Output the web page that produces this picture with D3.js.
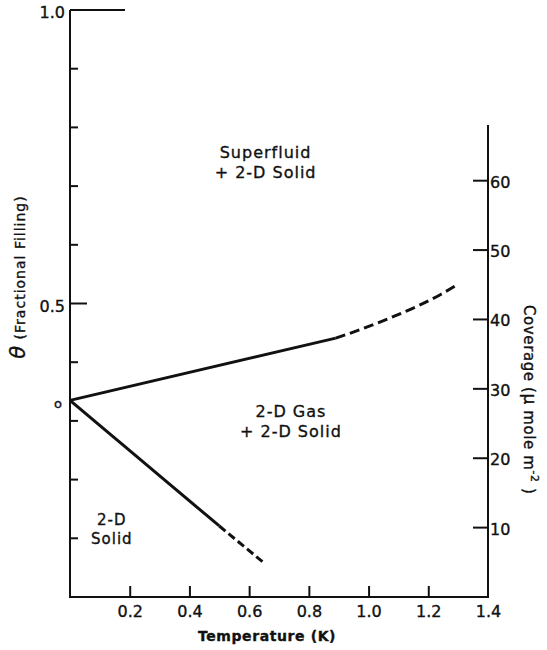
<!DOCTYPE html>
<html>
<head>
<meta charset="utf-8">
<script src="https://cdn.jsdelivr.net/npm/d3@7"></script>
<style>
  html, body { margin: 0; padding: 0; background: #fff; }
  svg { display: block; }
  text { font-family: "DejaVu Sans", sans-serif; fill: #111; stroke: #111; stroke-width: 0.35px; }
</style>
</head>
<body>
<div id="chart"></div>
<script>
// Phase boundaries of a helium film: fractional filling θ versus temperature (K)
const upperSolid  = [[0.00, 0.335], [0.89, 0.441]];
const upperDashed = [[0.89, 0.441], [0.98, 0.457], [1.07, 0.475], [1.17, 0.497], [1.24, 0.515], [1.30, 0.533]];
const lowerSolid  = [[0.00, 0.335], [0.50, 0.121]];
const lowerDashed = [[0.50, 0.121], [0.645, 0.060]];

const tempTicks      = [0.2, 0.4, 0.6, 0.8, 1.0, 1.2, 1.4];
const thetaMajor     = [0.5, 1.0];
const thetaMinor     = [0.1, 0.2, 0.3, 0.4, 0.6, 0.7, 0.8, 0.9];
const coverageTicks  = [10, 20, 30, 40, 50, 60];
const coverageMax    = 84.6;   // coverage (µmole m^-2) at θ = 1

const regionLabels = [
  { lines: ["Superfluid", "+ 2-D Solid"], t: 0.655, th: 0.748, size: 16 },
  { lines: ["2-D Gas", "+ 2-D Solid"],    t: 0.74,  th: 0.307, size: 16 },
  { lines: ["2-D", "Solid"],              t: 0.14,  th: 0.123, size: 15 }
];

const W = 547, H = 650;
const svg = d3.select("#chart").append("svg").attr("width", W).attr("height", H);

const x = d3.scaleLinear().domain([0, 1.4]).range([70, 488]);
const y = d3.scaleLinear().domain([0, 1]).range([597, 10]);
const yc = d3.scaleLinear().domain([0, coverageMax]).range([597, 10]);

const ink = "#111";

// frame: left, bottom and right axis lines
const frame = svg.append("g").attr("stroke", ink).attr("stroke-width", 2).attr("fill", "none");
frame.append("path").attr("d", `M${x(0)},${y(1)}H${x(0) + 55}M${x(0)},${y(1)}V${y(0)}H${x(1.4)}V${y(1) + 115}`);

// bottom axis: inward ticks with labels underneath
const xAxis = d3.axisBottom(x).tickValues(tempTicks).tickSize(0).tickPadding(0)
  .tickFormat(d3.format(".1f"));
const gx = svg.append("g").attr("transform", `translate(0,${y(0)})`).call(xAxis);
gx.select(".domain").remove();
gx.selectAll(".tick text").attr("y", 20).attr("dy", 0).attr("font-size", 16)
  .attr("font-family", "DejaVu Sans").attr("fill", ink);
gx.selectAll(".tick").filter(d => d < 1.4).append("line")
  .attr("y1", 0).attr("y2", -11).attr("stroke", ink).attr("stroke-width", 2);

svg.append("text").attr("x", 267).attr("y", 641).attr("text-anchor", "middle")
  .attr("font-size", 14).attr("font-weight", "bold").attr("letter-spacing", 0.6)
  .text("Temperature (K)");

// left axis: θ
const gl = svg.append("g");
gl.selectAll("line.minor").data(thetaMinor).join("line")
  .attr("x1", x(0)).attr("x2", x(0) + 8).attr("y1", d => y(d)).attr("y2", d => y(d))
  .attr("stroke", ink).attr("stroke-width", 2);
gl.selectAll("line.major").data(thetaMajor.filter(d => d < 1)).join("line")
  .attr("x1", x(0)).attr("x2", x(0) + 17).attr("y1", d => y(d)).attr("y2", d => y(d))
  .attr("stroke", ink).attr("stroke-width", 2);
gl.selectAll("text").data(thetaMajor).join("text")
  .attr("x", 65).attr("y", d => y(d) + 8).attr("text-anchor", "end")
  .attr("font-size", 16).text(d3.format(".1f"));
svg.append("text").attr("x", 58).attr("y", y(0.335) + 8).attr("text-anchor", "middle")
  .attr("font-size", 13).text("o");

const lt = svg.append("text").attr("transform", `translate(25,277) rotate(-90)`)
  .attr("text-anchor", "middle").attr("font-size", 14).attr("letter-spacing", 1);
lt.append("tspan").attr("font-size", 21).attr("font-style", "italic").text("θ");
lt.append("tspan").text(" (Fractional Filling)");

// right axis: coverage
const gr = svg.append("g");
gr.selectAll("line").data(coverageTicks).join("line")
  .attr("x1", x(1.4)).attr("x2", x(1.4) - 15).attr("y1", d => yc(d)).attr("y2", d => yc(d))
  .attr("stroke", ink).attr("stroke-width", 2);
gr.selectAll("text").data(coverageTicks).join("text")
  .attr("x", x(1.4) + 2).attr("y", d => yc(d) + 7).attr("font-size", 16).text(d => d);

const rt = svg.append("text").attr("transform", `translate(524,305) rotate(90)`)
  .attr("font-size", 15).attr("letter-spacing", 0.6);
rt.append("tspan").text("Coverage (");
rt.append("tspan").attr("font-size", 17).text("μ");
rt.append("tspan").text(" mole  m");
rt.append("tspan").attr("font-size", 11).attr("dy", -7).text("-2");
rt.append("tspan").attr("dy", 7).text(" )");

// phase boundaries
const line = d3.line().x(d => x(d[0])).y(d => y(d[1]));
const curve = d3.line().x(d => x(d[0])).y(d => y(d[1])).curve(d3.curveMonotoneX);
const lines = svg.append("g").attr("fill", "none").attr("stroke", ink).attr("stroke-width", 3);
lines.append("path").attr("d", line(upperSolid));
lines.append("path").attr("d", curve(upperDashed)).attr("stroke-dasharray", "10,5");
lines.append("path").attr("d", line(lowerSolid));
lines.append("path").attr("d", line(lowerDashed)).attr("stroke-dasharray", "8,4");

// region names
regionLabels.forEach(r => {
  const t = svg.append("text").attr("text-anchor", "middle")
    .attr("font-size", r.size).attr("letter-spacing", 1);
  r.lines.forEach((s, i) => {
    t.append("tspan").attr("x", x(r.t)).attr("y", y(r.th) + i * (r.size + 4)).text(s);
  });
});
</script>
</body>
</html>
